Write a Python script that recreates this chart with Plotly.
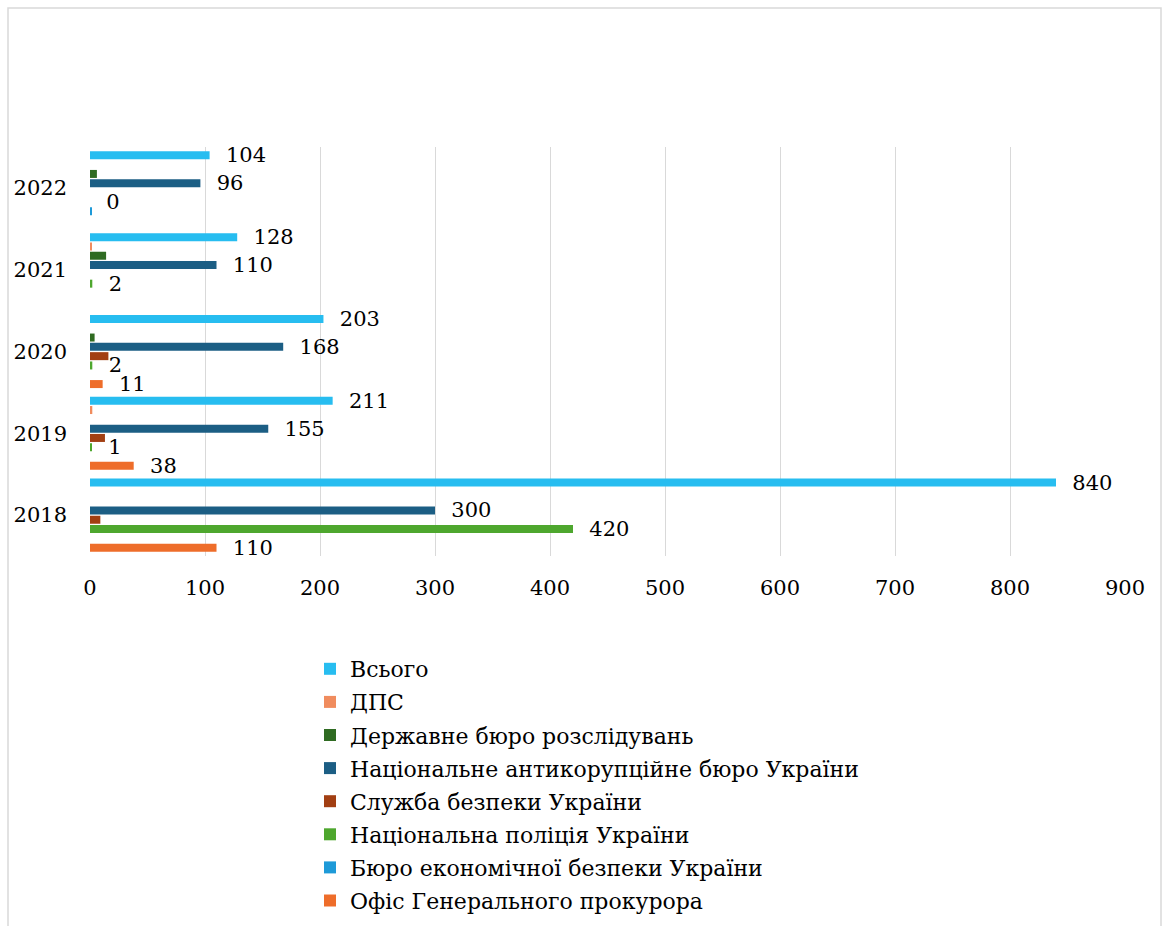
import plotly.graph_objects as go

years = ["2018", "2019", "2020", "2021", "2022"]

ofis = [110, 38, 11, None, None]
beb = [None, None, None, None, 1]
natpol = [420, 1, 2, 2, 0]
sbu = [9, 13, 16, None, None]
nabu = [300, 155, 168, 110, 96]
dbr = [None, None, 4, 14, 6]
dps = [None, 2, None, 1, None]
total = [840, 211, 203, 128, 104]

# (name, values, colour, show labels) from bottom slot to top slot
series = [
    ("Офіс Генерального прокурора", ofis, "#EE6D2A", True),
    ("Бюро економічної безпеки України", beb, "#1E9AD8", False),
    ("Національна поліція України", natpol, "#4EA72E", True),
    ("Служба безпеки України", sbu, "#A23F12", False),
    ("Національне антикорупційне бюро України", nabu, "#1C5E84", True),
    ("Державне бюро розслідувань", dbr, "#2F6B22", False),
    ("ДПС", dps, "#F08C5E", False),
    ("Всього", total, "#27BDF0", True),
]

FONT = "DejaVu Serif"
W, H = 1166, 926
L, R, T, B = 90, 41, 147, 370
n = len(series)

fig = go.Figure()
for i, (name, vals, col, lab) in enumerate(series):
    fig.add_trace(go.Bar(
        y=years, x=vals, name=name, orientation="h",
        marker=dict(color=col, line=dict(width=0)),
        text=[("" if v is None else str(v)) for v in vals] if lab else None,
        texttemplate="\u00a0\u00a0%{text}" if lab else None,
        textposition="outside" if lab else "none",
        textfont=dict(family=FONT, size=21, color="#000000"),
        constraintext="none",
        cliponaxis=False,
        legendgroup=f"g{i}",
        legendrank=n - i,
    ))

pw = W - L - R
ph = H - T - B
def px_x(p):
    return (p - L) / pw
def px_y(p):
    return (H - B - p) / ph

fig.update_layout(
    width=W, height=H,
    margin=dict(l=L, r=R, t=T, b=B, autoexpand=False),
    paper_bgcolor="white", plot_bgcolor="white",
    barmode="group", bargap=0.09, bargroupgap=0.14,
    font=dict(family=FONT, size=21, color="#000000"),
    showlegend=True,
    legend=dict(
        traceorder="grouped", tracegroupgap=1.5,
        x=px_x(310), xanchor="left", y=px_y(648), yanchor="top",
        font=dict(family=FONT, size=22, color="#000000"),
        bgcolor="rgba(0,0,0,0)",
    ),
    xaxis=dict(
        range=[0, 900], tickvals=[0, 100, 200, 300, 400, 500, 600, 700, 800, 900],
        showgrid=True, gridcolor="#D9D9D9", gridwidth=1,
        zeroline=False, showline=False, ticks="",
        tickfont=dict(family=FONT, size=21, color="#000000"),
        ticklabelstandoff=17, fixedrange=True,
    ),
    yaxis=dict(
        type="category", categoryorder="array", categoryarray=years,
        showgrid=False, zeroline=False, showline=False, ticks="",
        tickfont=dict(family=FONT, size=21, color="#000000"),
        ticklabelstandoff=22, fixedrange=True,
    ),
    shapes=[dict(
        type="rect", xref="paper", yref="paper",
        x0=px_x(8), x1=px_x(1161), y0=px_y(940), y1=px_y(8),
        line=dict(color="#D9D9D9", width=1.5), fillcolor="rgba(0,0,0,0)", layer="below",
    )],
)

fig.write_html("out.html")
